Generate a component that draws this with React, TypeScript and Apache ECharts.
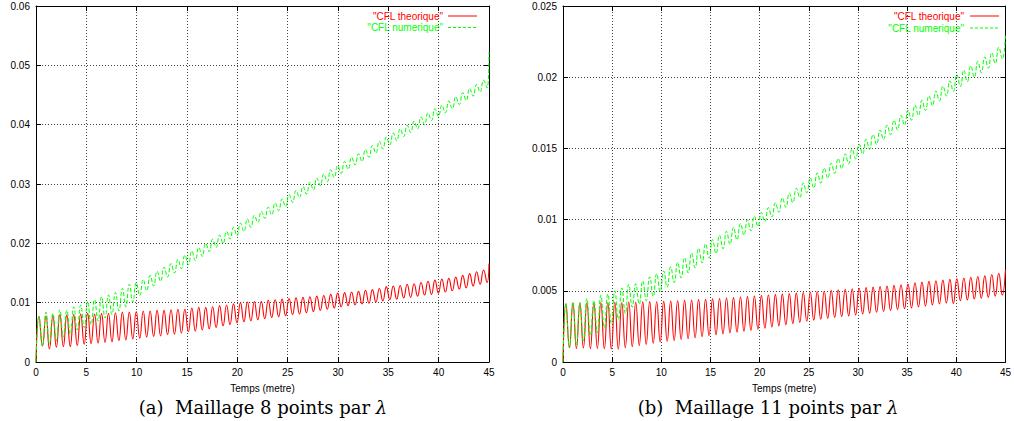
import React, { useEffect, useRef } from "react";
import * as echarts from "echarts";

// ---- Panel (a): Maillage 8 points par lambda ----
const firstPeakA = 0.3;
const periodA = 0.69;
const redPeaksA = [
  0.0077, 0.0078, 0.0078, 0.0080, 0.0079, 0.0080, 0.0081, 0.0082, 0.0081, 0.0082,
  0.0082, 0.0083, 0.0084, 0.0084, 0.0085, 0.0086, 0.0086, 0.0087, 0.0087, 0.0088,
  0.0089, 0.0089, 0.0091, 0.0092, 0.0092, 0.0093, 0.0095, 0.0096, 0.0098, 0.0100,
  0.0101, 0.0102, 0.0102, 0.0104, 0.0105, 0.0106, 0.0107, 0.0108, 0.0109, 0.0110,
  0.0111, 0.0112, 0.0114, 0.0116, 0.0117, 0.0118, 0.0119, 0.0121, 0.0122, 0.0124,
  0.0127, 0.0128, 0.0129, 0.0131, 0.0132, 0.0134, 0.0136, 0.0138, 0.0140, 0.0141,
  0.0143, 0.0146, 0.0149, 0.0152, 0.0155,
];
const redTroughsA = [
  0.0027, 0.0022, 0.0025, 0.0026, 0.0026, 0.0028, 0.0030, 0.0031, 0.0032, 0.0033,
  0.0034, 0.0036, 0.0037, 0.0039, 0.0040, 0.0042, 0.0043, 0.0044, 0.0046, 0.0047,
  0.0049, 0.0051, 0.0052, 0.0054, 0.0056, 0.0058, 0.0061, 0.0063, 0.0066, 0.0068,
  0.0069, 0.0071, 0.0073, 0.0075, 0.0076, 0.0078, 0.0080, 0.0081, 0.0083, 0.0085,
  0.0087, 0.0089, 0.0091, 0.0093, 0.0095, 0.0096, 0.0098, 0.0099, 0.0101, 0.0103,
  0.0105, 0.0106, 0.0108, 0.0109, 0.0111, 0.0113, 0.0114, 0.0116, 0.0118, 0.0120,
  0.0123, 0.0125, 0.0128, 0.0131, 0.0134,
];
const greenPeaksA = [
  0.0077, 0.0084, 0.0082, 0.0088, 0.0087, 0.0093, 0.0096, 0.0102, 0.0105, 0.0110,
  0.0113, 0.0117, 0.0124, 0.0131, 0.0134, 0.0139, 0.0146, 0.0153, 0.0160, 0.0166,
  0.0173, 0.0180, 0.0187, 0.0193, 0.0200, 0.0207, 0.0214, 0.0220, 0.0227, 0.0234,
  0.0241, 0.0247, 0.0254, 0.0261, 0.0268, 0.0275, 0.0282, 0.0289, 0.0296, 0.0303,
  0.0310, 0.0317, 0.0324, 0.0331, 0.0338, 0.0345, 0.0351, 0.0358, 0.0365, 0.0372,
  0.0379, 0.0386, 0.0393, 0.0399, 0.0406, 0.0413, 0.0420, 0.0427, 0.0433, 0.0440,
  0.0447, 0.0454, 0.0461, 0.0468, 0.0475,
];
const greenTroughsA = [
  0.0027, 0.0031, 0.0036, 0.0042, 0.0047, 0.0054, 0.0058, 0.0063, 0.0069, 0.0074,
  0.0080, 0.0086, 0.0093, 0.0101, 0.0112, 0.0120, 0.0128, 0.0136, 0.0143, 0.0150,
  0.0157, 0.0164, 0.0171, 0.0178, 0.0186, 0.0193, 0.0200, 0.0207, 0.0213, 0.0220,
  0.0227, 0.0235, 0.0242, 0.0248, 0.0255, 0.0262, 0.0269, 0.0277, 0.0283, 0.0290,
  0.0297, 0.0304, 0.0311, 0.0318, 0.0325, 0.0332, 0.0338, 0.0345, 0.0352, 0.0359,
  0.0366, 0.0373, 0.0380, 0.0387, 0.0393, 0.0400, 0.0407, 0.0414, 0.0420, 0.0427,
  0.0434, 0.0441, 0.0448, 0.0455, 0.0462,
];
const redEndA = 0.0166;
const greenEndA = 0.0522;

// ---- Panel (b): Maillage 11 points par lambda ----
const firstPeakB = 0.3;
const periodB = 0.71;
const redPeaksB = [
  0.00410, 0.00415, 0.00412, 0.00416, 0.00414, 0.00418, 0.00416, 0.00420, 0.00418, 0.00421,
  0.00420, 0.00422, 0.00424, 0.00423, 0.00426, 0.00428, 0.00430, 0.00433, 0.00435, 0.00438,
  0.00440, 0.00443, 0.00446, 0.00449, 0.00452, 0.00456, 0.00459, 0.00463, 0.00466, 0.00470,
  0.00473, 0.00477, 0.00480, 0.00484, 0.00488, 0.00492, 0.00495, 0.00499, 0.00503, 0.00507,
  0.00511, 0.00514, 0.00518, 0.00522, 0.00526, 0.00530, 0.00534, 0.00538, 0.00542, 0.00548,
  0.00557, 0.00561, 0.00566, 0.00571, 0.00575, 0.00580, 0.00585, 0.00590, 0.00595, 0.00600,
  0.00605, 0.00614, 0.00623,
];
const redTroughsB = [
  0.00100, 0.00095, 0.00098, 0.00094, 0.00096, 0.00093, 0.00092, 0.00090, 0.00100, 0.00108,
  0.00116, 0.00124, 0.00132, 0.00140, 0.00146, 0.00152, 0.00158, 0.00164, 0.00171, 0.00178,
  0.00186, 0.00192, 0.00198, 0.00204, 0.00210, 0.00216, 0.00222, 0.00230, 0.00238, 0.00246,
  0.00254, 0.00262, 0.00270, 0.00278, 0.00286, 0.00294, 0.00300, 0.00306, 0.00312, 0.00318,
  0.00324, 0.00330, 0.00337, 0.00343, 0.00349, 0.00355, 0.00361, 0.00367, 0.00374, 0.00380,
  0.00387, 0.00394, 0.00401, 0.00408, 0.00415, 0.00410, 0.00430, 0.00436, 0.00442, 0.00448,
  0.00454, 0.00462, 0.00470,
];
const greenPeaksB = [
  0.00410, 0.00420, 0.00418, 0.00446, 0.00432, 0.00468, 0.00478, 0.00500, 0.00520, 0.00545,
  0.00550, 0.00570, 0.00598, 0.00620, 0.00640, 0.00668, 0.00700, 0.00732, 0.00765, 0.00798,
  0.00830, 0.00860, 0.00890, 0.00918, 0.00946, 0.00972, 0.00998, 0.01024, 0.01050, 0.01084,
  0.01118, 0.01152, 0.01186, 0.01220, 0.01258, 0.01294, 0.01328, 0.01362, 0.01396, 0.01430,
  0.01462, 0.01496, 0.01530, 0.01564, 0.01598, 0.01630, 0.01664, 0.01698, 0.01732, 0.01770,
  0.01804, 0.01838, 0.01870, 0.01904, 0.01938, 0.01975, 0.02018, 0.02050, 0.02080, 0.02110,
  0.02142, 0.02172, 0.02210,
];
const greenTroughsB = [
  0.00100, 0.00120, 0.00150, 0.00185, 0.00205, 0.00240, 0.00270, 0.00300, 0.00340, 0.00385,
  0.00405, 0.00430, 0.00460, 0.00495, 0.00525, 0.00558, 0.00590, 0.00625, 0.00660, 0.00695,
  0.00730, 0.00762, 0.00795, 0.00826, 0.00858, 0.00890, 0.00920, 0.00952, 0.00985, 0.01018,
  0.01052, 0.01086, 0.01120, 0.01154, 0.01188, 0.01222, 0.01256, 0.01290, 0.01324, 0.01358,
  0.01392, 0.01426, 0.01460, 0.01494, 0.01528, 0.01562, 0.01596, 0.01630, 0.01664, 0.01698,
  0.01732, 0.01766, 0.01800, 0.01834, 0.01868, 0.01900, 0.01935, 0.01968, 0.02000, 0.02032,
  0.02064, 0.02096, 0.02128,
];
const redEndB = 0.0065;
const greenEndB = 0.0230;

const startValue = 0;
const tMax = 45;
const yMaxA = 0.06;
const yStepA = 0.01;
const yMaxB = 0.025;
const yStepB = 0.005;

const nameTheo = '"CFL theorique"';
const nameNum = '"CFL numerique"';
const captionA = "(a)  Maillage 8 points par ";
const captionB = "(b)  Maillage 11 points par ";
const xName = "Temps (metre)";

function buildCurve(peaks: number[], troughs: number[], first: number, period: number, end: number) {
  const pts: number[][] = [[0, startValue]];
  for (let k = 0; k < peaks.length; k++) {
    pts.push([first + k * period, peaks[k]]);
    if (k < troughs.length) pts.push([first + period / 2 + k * period, troughs[k]]);
  }
  pts.push([tMax, end]);
  return pts;
}

const RED = "#ff0000";
const GREEN = "#00ff00";
const SANS = "Liberation Sans";
const SERIF = "DejaVu Serif";

function yFmt(v: number) {
  return String(parseFloat(v.toFixed(4)));
}

function axesFor(grid: number, yMax: number, yStep: number) {
  const tickStyle = { show: true, inside: true, length: 5, lineStyle: { color: "#000", width: 1 } };
  const line = { show: true, onZero: false, lineStyle: { color: "#000", width: 1 } };
  const split = {
    show: true,
    showMinLine: false,
    showMaxLine: false,
    lineStyle: { color: "#444", width: 1, type: [1, 2] },
  };
  const xs = [
    {
      gridIndex: grid, type: "value", min: 0, max: tMax, interval: 5, position: "bottom",
      axisLine: line, axisTick: tickStyle, splitLine: split,
      axisLabel: { show: true, margin: 5, color: "#000", fontFamily: SANS, fontSize: 10, showMaxLabel: true },
      name: xName, nameLocation: "middle", nameGap: 21,
      nameTextStyle: { color: "#000", fontFamily: SANS, fontSize: 10 },
    },
    {
      gridIndex: grid, type: "value", min: 0, max: tMax, interval: 5, position: "top",
      axisLine: line, axisTick: tickStyle, splitLine: { show: false }, axisLabel: { show: false },
    },
  ];
  const ys = [
    {
      gridIndex: grid, type: "value", min: 0, max: yMax, interval: yStep, position: "left",
      axisLine: line, axisTick: tickStyle, splitLine: split,
      axisLabel: { show: true, margin: 6, color: "#000", fontFamily: SANS, fontSize: 10, formatter: yFmt },
    },
    {
      gridIndex: grid, type: "value", min: 0, max: yMax, interval: yStep, position: "right",
      axisLine: line, axisTick: tickStyle, splitLine: { show: false }, axisLabel: { show: false },
    },
  ];
  return { xs, ys };
}

function legendGraphics(textRight: number, lineLeft: number, lineRight: number, y1: number, y2: number) {
  const txt = (text: string, y: number, color: string) => ({
    type: "text", x: textRight, y,
    style: { text, fill: color, fontFamily: SANS, fontSize: 10, align: "right", verticalAlign: "middle" },
  });
  const ln = (y: number, color: string, dash: number[] | null) => ({
    type: "line",
    shape: { x1: lineLeft, y1: y, x2: lineRight, y2: y },
    style: { stroke: color, lineWidth: 1, lineDash: dash || undefined },
  });
  return [
    txt(nameTheo, y1, RED), ln(y1, RED, null),
    txt(nameNum, y2, GREEN), ln(y2, GREEN, [3, 2]),
  ];
}

function caption(x: number, text: string) {
  return {
    type: "text", x, y: 407,
    style: {
      text: text + "{i|λ}",
      rich: { i: { fontStyle: "italic", fontFamily: SERIF, fontSize: 18, fill: "#000" } },
      fontFamily: SERIF, fontSize: 18, fill: "#000",
      align: "center", verticalAlign: "middle",
    },
  };
}

export default function App() {
  const ref = useRef<HTMLDivElement>(null);
  useEffect(() => {
    if (!ref.current) return;
    const chart = echarts.init(ref.current, undefined, { renderer: "svg" });
    const a = axesFor(0, yMaxA, yStepA);
    const b = axesFor(1, yMaxB, yStepB);
    const lineSeries = (name: string, xi: number, yi: number, data: number[][], color: string, dashed: boolean) => ({
      name,
      type: "line",
      xAxisIndex: xi,
      yAxisIndex: yi,
      data,
      smooth: 0.5,
      symbol: "none",
      clip: true,
      lineStyle: { color, width: dashed ? 1 : 1.1, type: dashed ? [4, 2] : "solid" },
      itemStyle: { color },
      z: dashed ? 3 : 2,
    });
    chart.setOption({
      animation: false,
      backgroundColor: "#fff",
      grid: [
        { left: 36, top: 6, width: 453, height: 356 },
        { left: 563, top: 6, width: 447, height: 356 },
      ],
      xAxis: [...a.xs, ...b.xs],
      yAxis: [...a.ys, ...b.ys],
      series: [
        lineSeries(nameTheo, 0, 0, buildCurve(redPeaksA, redTroughsA, firstPeakA, periodA, redEndA), RED, false),
        lineSeries(nameNum, 0, 0, buildCurve(greenPeaksA, greenTroughsA, firstPeakA, periodA, greenEndA), GREEN, true),
        lineSeries(nameTheo, 2, 2, buildCurve(redPeaksB, redTroughsB, firstPeakB, periodB, redEndB), RED, false),
        lineSeries(nameNum, 2, 2, buildCurve(greenPeaksB, greenTroughsB, firstPeakB, periodB, greenEndB), GREEN, true),
      ],
      graphic: [
        ...legendGraphics(443, 448, 477, 16, 27.5),
        ...legendGraphics(964, 970, 999, 16, 28),
        caption(263, captionA),
        caption(768, captionB),
      ],
    });
    return () => chart.dispose();
  }, []);
  return (
    <div
      ref={ref}
      style={{ position: "absolute", left: 0, top: 0, width: 1014, height: 421 }}
    />
  );
}
